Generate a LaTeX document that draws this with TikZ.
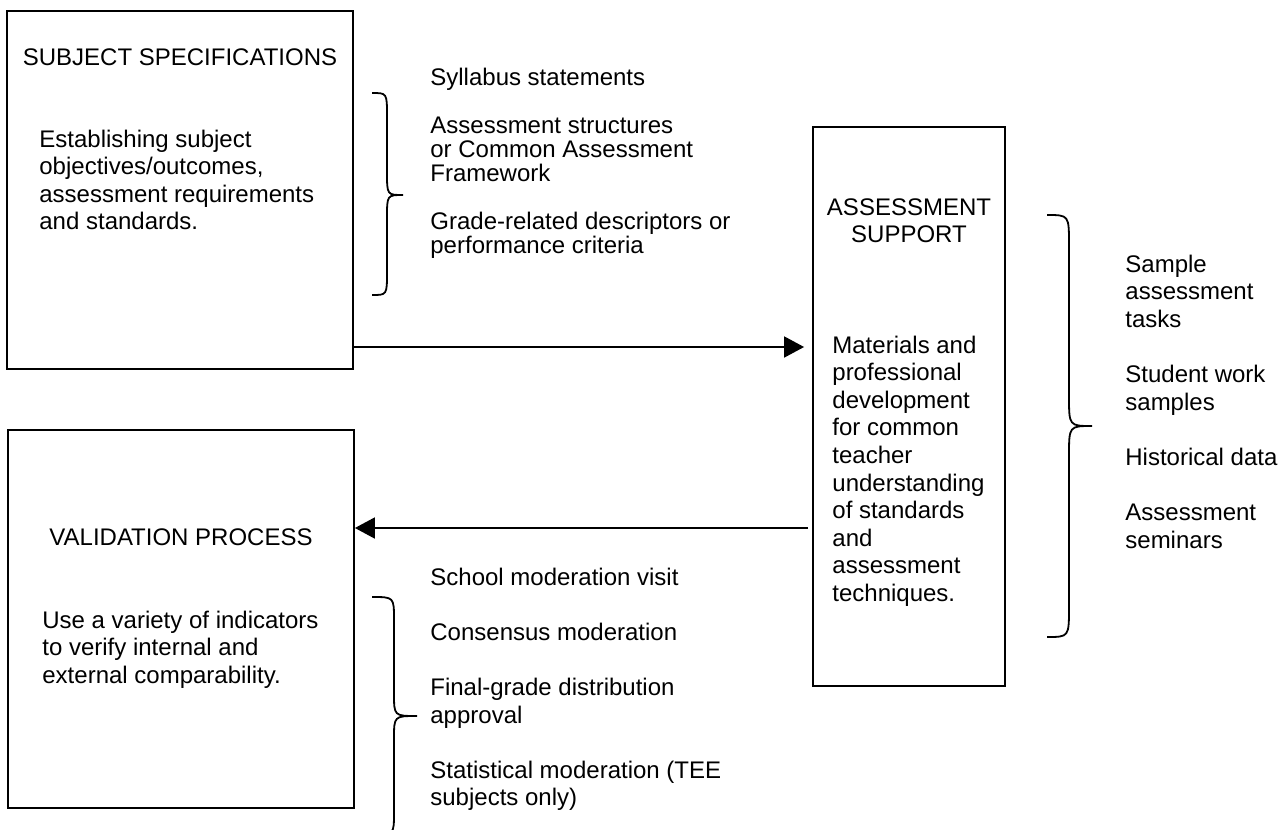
\documentclass[tikz,border=0pt]{standalone}
\usepackage{fontspec}
\setmainfont{Liberation Sans}
\usetikzlibrary{arrows.meta}
% curly bracket as drawn by a word processor: hook x, stem x, tip x, top y, tip y, bottom y, bend
\newcommand{\wbrace}[7]{%
  \draw[brc] (#1,#4) .. controls (#2,#4) .. (#2,#4+#7)
    -- (#2,#5-#7) .. controls (#2,#5) .. (#3,#5)
    .. controls (#2,#5) .. (#2,#5+#7)
    -- (#2,#6-#7) .. controls (#2,#6) .. (#1,#6);}

\begin{document}
\begin{tikzpicture}[x=0.5pt, y=-0.5pt,
  box/.style={draw, line width=0.9pt, inner sep=0pt},
  lab/.style={anchor=base west, align=left, inner sep=0pt, font=\fontsize{12}{13.8}\selectfont},
  ttl/.style={anchor=base, align=center, inner sep=0pt, font=\fontsize{12}{13.8}\selectfont},
  arr/.style={-{Triangle[length=10pt, width=10.5pt]}, line width=0.9pt},
  brc/.style={line width=0.9pt}]
\useasboundingbox (0,0) rectangle (1286,830);
% boxes
\node[box, minimum width=173pt, minimum height=179pt] (subj) at (180,190) {};
\node[box, minimum width=96pt, minimum height=279.5pt] (supp) at (909,406.5) {};
\node[box, minimum width=173pt, minimum height=189pt] (valid) at (181,619) {};
% box texts (placed by the baseline of their last line)
\node[ttl] (subjttl) at (180,65) {SUBJECT SPECIFICATIONS};
\node[lab] (subjtxt) at (39,229.8) {Establishing subject\\objectives/outcomes,\\assessment requirements\\and standards.};
\node[ttl] (suppttl) at (909,242.6) {ASSESSMENT\\SUPPORT};
\node[lab] (supptxt) at (832,601.4) {Materials and\\professional\\development\\for common\\teacher\\understanding\\of standards\\and\\assessment\\techniques.};
\node[ttl] (validttl) at (181,545) {VALIDATION PROCESS};
\node[lab] (validtxt) at (42,683.2) {Use a variety of indicators\\to verify internal and\\external comparability.};
% lists beside the brackets
\node[lab, font=\fontsize{12}{12}\selectfont] (speclist) at (430,253) {Syllabus statements\\[12pt]Assessment structures\\or Common Assessment\\Framework\\[12pt]Grade-related descriptors or\\performance criteria};
\node[lab] (supplist) at (1125,548) {Sample\\assessment\\tasks\\[13.8pt]Student work\\samples\\[13.8pt]Historical data\\[13.8pt]Assessment\\seminars};
\node[lab] (modlist) at (430,805.8) {School moderation visit\\[13.8pt]Consensus moderation\\[13.8pt]Final-grade distribution\\approval\\[13.8pt]Statistical moderation (TEE\\subjects only)};
% brackets
\wbrace{372}{387}{403}{93}{195}{295}{23}
\wbrace{1047}{1069}{1092}{215}{426}{637}{30}
\wbrace{372}{394}{417}{597}{716}{835}{23}
% arrows
\coordinate (fwd) at (0,347);
\coordinate (back) at (0,528);
\draw[arr] (subj.east |- fwd) -- ([xshift=-4pt]supp.west |- fwd);
\draw[arr] ([xshift=-2pt]supp.west |- back) -- (valid.east |- back);
\end{tikzpicture}
\end{document}
